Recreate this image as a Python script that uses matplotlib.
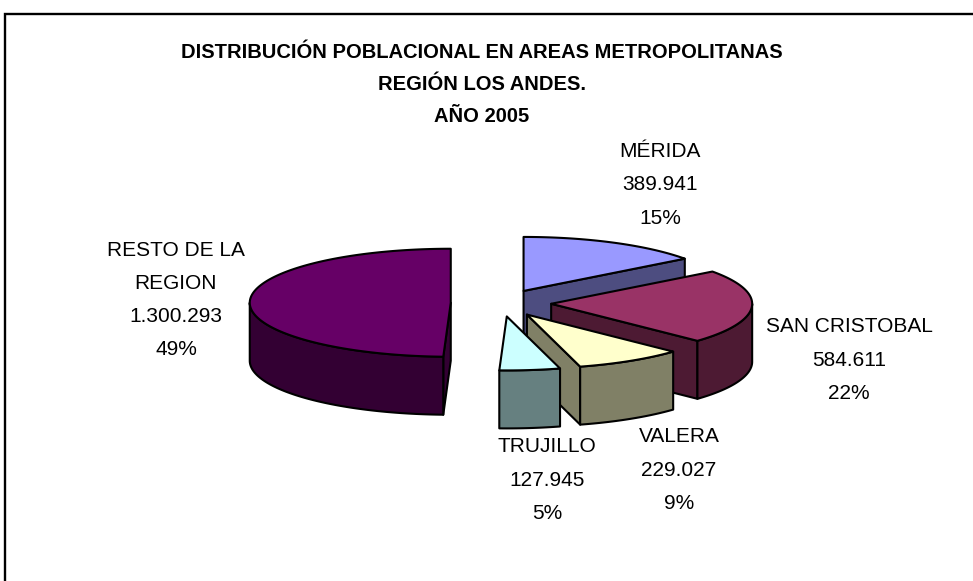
import numpy as np
import matplotlib
matplotlib.use("Agg")
import matplotlib.pyplot as plt
from matplotlib.patches import Polygon

plt.rcParams['font.family'] = ['Liberation Sans', 'DejaVu Sans']

# clockwise from 12 o'clock
names = ["MÉRIDA", "SAN CRISTOBAL", "VALERA", "TRUJILLO", "RESTO DE LA\nREGION"]
population = [389941, 584611, 229027, 127945, 1300293]
topColors = ["#9999FF", "#993366", "#FFFFCC", "#CCFFFF", "#660066"]
wallColors = ["#4D4D80", "#4D1A33", "#808066", "#668080", "#330033"]
titleLines = ["DISTRIBUCIÓN POBLACIONAL EN AREAS METROPOLITANAS", "REGIÓN LOS ANDES.", "AÑO 2005"]

# pie layout in pixels
cx, cy = 501, 303
rx, ry = 201, 54
depth = 58
explode = 0.25
labelPos = [(660, 185), (849, 360), (679, 470), (547, 480), (176, 300)]


def arcPoints(x0, y0, a0, a1):
    # angles in degrees, clockwise from the top of the ellipse
    n = max(2, int(abs(a1 - a0)) + 2)
    t = np.radians(np.linspace(a0, a1, n))
    return np.column_stack((x0 + rx * np.sin(t), y0 - ry * np.cos(t)))


def addPoly(ax, pts, color):
    ax.add_patch(Polygon(pts, closed=True, facecolor=color, edgecolor="black", linewidth=1.5, joinstyle="round"))


def drawSlice(ax, a0, a1, top, wall):
    mid = np.radians((a0 + a1) / 2)
    x0 = cx + explode * rx * np.sin(mid)
    y0 = cy - explode * ry * np.cos(mid)
    down = np.array([0, depth])
    apex = np.array([x0, y0])

    # radial faces turned to the viewer
    for a, isFront in ((a0, np.sin(np.radians(a0)) < -1e-6), (a1, np.sin(np.radians(a1)) > 1e-6)):
        if isFront:
            edge = arcPoints(x0, y0, a, a)[0]
            addPoly(ax, [apex, edge, edge + down, apex + down], wall)

    # outer wall, front half of the ellipse only
    w0, w1 = max(a0, 90), min(a1, 270)
    if w1 > w0:
        arc = arcPoints(x0, y0, w0, w1)
        addPoly(ax, np.vstack((arc, arc[::-1] + down)), wall)

    addPoly(ax, np.vstack(([apex], arcPoints(x0, y0, a0, a1))), top)


fig = plt.figure(figsize=(9.73, 5.81), dpi=100)
ax = fig.add_axes([0, 0, 1, 1])
ax.set_xlim(0, 973)
ax.set_ylim(581, 0)
ax.axis("off")

# chart frame runs off the bottom and right of the picture
ax.plot([5, 5, 990], [600, 14, 14], color="black", linewidth=1.7, solid_joinstyle="miter")

total = sum(population)
edges = np.concatenate(([0], np.cumsum(population))) / total * 360
for i in range(len(population)):
    drawSlice(ax, edges[i], edges[i + 1], topColors[i], wallColors[i])

for i in range(len(names)):
    valueText = f"{population[i]:,}".replace(",", ".")
    pctText = f"{round(population[i] / total * 100)}%"
    ax.text(labelPos[i][0], labelPos[i][1], f"{names[i]}\n{valueText}\n{pctText}", ha="center", va="center",
            fontsize=15, linespacing=1.95, color="black")

for line, y in zip(titleLines, [52, 85, 117]):
    ax.text(482, y, line, ha="center", va="center", fontsize=14.5, fontweight="bold", color="black")

fig.savefig("out.png", dpi=100)
